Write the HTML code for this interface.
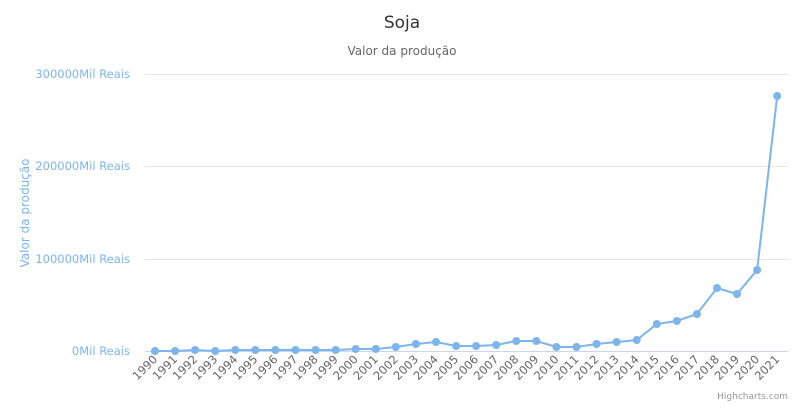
<!DOCTYPE html>
<html><head><meta charset="utf-8"><style>
body{margin:0;background:#fff}
svg{display:block;font-family:"DejaVu Sans","Liberation Sans",sans-serif}
</style></head><body>
<svg id="c" width="804" height="417" xmlns="http://www.w3.org/2000/svg">
<rect width="804" height="417" fill="#fff"/>
<text x="402" y="28" text-anchor="middle" font-size="17" fill="#333">Soja</text>
<text x="402" y="55" text-anchor="middle" font-size="12" fill="#666">Valor da produção</text>
<g stroke="#e6e6e6" stroke-width="1">
<line x1="145" x2="788" y1="74.5" y2="74.5"/>
<line x1="145" x2="788" y1="166.5" y2="166.5"/>
<line x1="145" x2="788" y1="259.5" y2="259.5"/>
</g>
<line x1="145" x2="788" y1="351.5" y2="351.5" stroke="#ccd6eb"/>
<g font-size="11.5" fill="#7cb5ec" text-anchor="end">
<text x="130" y="78">300000Mil Reais</text>
<text x="130" y="170">200000Mil Reais</text>
<text x="130" y="263">100000Mil Reais</text>
<text x="130" y="355">0Mil Reais</text>
</g>
<text transform="translate(29,213) rotate(-90)" text-anchor="middle" font-size="12" fill="#7cb5ec">Valor da produção</text>
<g id="g"></g>
<text x="788" y="399" text-anchor="end" font-size="9" fill="#999">Highcharts.com</text>
</svg>
<script>
var ys=[351,351,350,351,350,350,350,350,350,350,349,349,347,344,342,346,346,345,341,341,347,347,344,342,340,324,321,314,288,294,270,96];
var g=document.getElementById('g'),s='',pts=[];
for(var i=0;i<32;i++){var x=155+i*20.07;pts.push(x.toFixed(1)+','+ys[i]);
s+='<text transform="translate('+(x+3)+',360) rotate(-45)" text-anchor="end" font-size="11.5" fill="#666">'+(1990+i)+'</text>';}
s+='<polyline points="'+pts.join(' ')+'" fill="none" stroke="#7cb5ec" stroke-width="2"/>';
for(i=0;i<32;i++){s+='<circle cx="'+(155+i*20.07).toFixed(1)+'" cy="'+ys[i]+'" r="4" fill="#7cb5ec"/>';}
g.innerHTML=s;
</script>
</body></html>
